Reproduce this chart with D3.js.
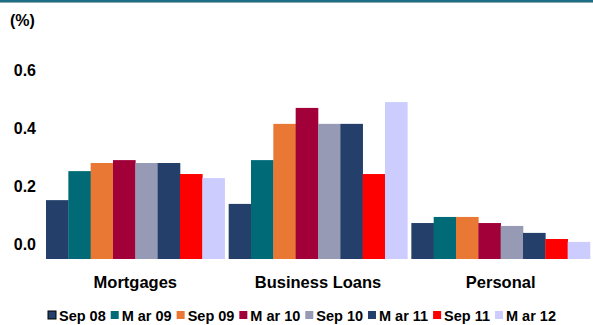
<!DOCTYPE html>
<html><head><meta charset="utf-8">
<script src="https://cdn.jsdelivr.net/npm/d3@7"></script>
<style>body{margin:0;background:#fff}svg{display:block}text{font-family:"Liberation Sans",Arial,sans-serif;font-weight:bold;fill:#000}</style>
</head><body>
<script>
const categories = ["Mortgages", "Business Loans", "Personal"];
const seriesNames = ["Sep 08", "M ar 09", "Sep 09", "M ar 10", "Sep 10", "M ar 11", "Sep 11", "M ar 12"];
const seriesColors = ["#243F6A", "#006B77", "#E87833", "#A10038", "#969AB5", "#243F6A", "#FF0000", "#CCCCFF"];
const mortgages = [0.153, 0.253, 0.281, 0.291, 0.281, 0.281, 0.243, 0.229];
const businessLoans = [0.140, 0.291, 0.416, 0.471, 0.416, 0.416, 0.243, 0.491];
const personal = [0.074, 0.095, 0.095, 0.074, 0.064, 0.040, 0.019, 0.009];
const yTicks = [0.0, 0.2, 0.4, 0.6];

const data = [mortgages, businessLoans, personal];
const W = 593, H = 325;
const svg = d3.select("body").append("svg").attr("width", W).attr("height", H);

// top border
svg.append("rect").attr("x", 0).attr("y", 0).attr("width", W).attr("height", 2).attr("fill", "#1B6E86");
svg.append("rect").attr("x", 0).attr("y", 2).attr("width", W).attr("height", 1).attr("fill", "#8FA9B3");

const yMin = -0.05;
const y = d3.scaleLinear().domain([yMin, 0.6]).range([259, 70.5]);
const x0 = d3.scaleBand().domain(categories).range([44, 592]).paddingInner(0.022).paddingOuter(0.011);
const x1 = d3.scaleBand().domain(d3.range(seriesNames.length)).range([0, x0.bandwidth()]);

const g = svg.append("g");
categories.forEach((c, ci) => {
  g.selectAll(null).data(data[ci]).enter().append("rect")
    .attr("x", (d, i) => x0(c) + x1(i))
    .attr("width", x1.bandwidth() + 0.3)
    .attr("y", d => y(d))
    .attr("height", d => y(yMin) - y(d))
    .attr("fill", (d, i) => seriesColors[i]);
});

// y tick labels
svg.selectAll(".yt").data(yTicks).enter().append("text")
  .attr("x", 36).attr("y", d => y(d)).attr("dy", "0.36em")
  .attr("text-anchor", "end").attr("font-size", 16)
  .text(d => d3.format(".1f")(d));

svg.append("text").attr("x", 10).attr("y", 26).attr("font-size", 16).text("(%)");

// category labels
svg.selectAll(".cl").data(categories).enter().append("text")
  .attr("x", d => x0(d) + x0.bandwidth() / 2).attr("y", 288)
  .attr("text-anchor", "middle").attr("font-size", 16.5)
  .text(d => d);

// legend
const lg = svg.append("g");
const items = lg.selectAll("g").data(seriesNames).enter().append("g");
items.append("rect").attr("width", 8).attr("height", 8).attr("y", 311)
  .attr("fill", (d, i) => seriesColors[i])
  .attr("stroke", (d, i) => i === 0 ? "#000" : "none").attr("stroke-width", 1);
const texts = items.append("text").attr("y", 320.5).attr("font-size", 14.5).text(d => d);
const widths = [];
texts.each(function () { widths.push(this.getComputedTextLength()); });
const startX = 48, endX = 556;
const total = d3.sum(widths) + 11 * widths.length;
const gap = (endX - startX - total) / (widths.length - 1);
let cx = startX;
items.each(function (d, i) {
  const gi = d3.select(this);
  gi.select("rect").attr("x", cx);
  gi.select("text").attr("x", cx + 11);
  cx += 11 + widths[i] + gap;
});
</script>
</body></html>
